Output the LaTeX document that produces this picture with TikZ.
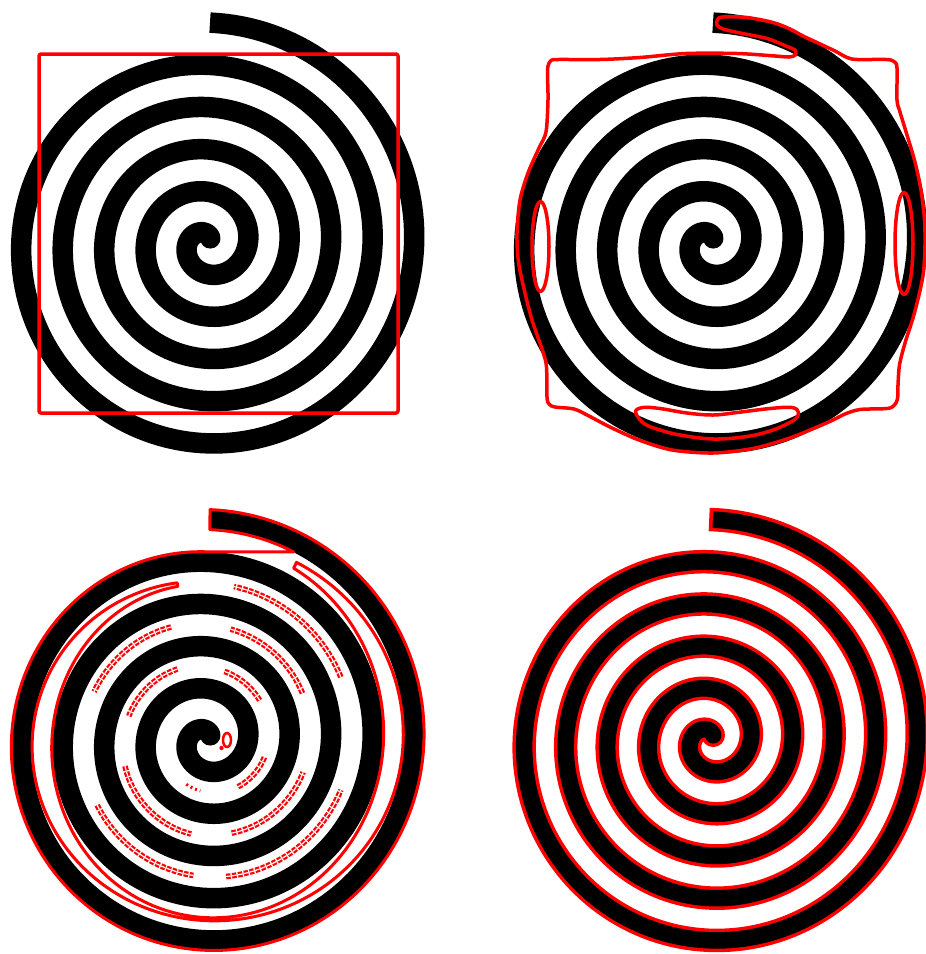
\documentclass[tikz,border=0pt]{standalone}
\pgfmathdeclarefunction{spr}{1}{\pgfmathparse{41.225+0.1175*#1}}
\newcommand\SpX[1]{207.3+0.983*(spr(\t)+(#1))*cos(\t)}
\newcommand\SpY[1]{243.5-(spr(\t)+(#1))*sin(\t)}
\tikzset{
 spiralline/.style={draw=black, line width=20.5pt},
 contour/.style={draw=red, line width=3.5pt, line join=round},
 thincontour/.style={draw=red, line width=3pt, line join=round},
 beads/.style={draw=red, line width=2.2pt, double=white, double distance=1.2pt, dash pattern=on 4.5pt off 1.5pt},
}
\newcommand\DrawSpiral{%
 \draw[spiralline] plot[domain=-300:1529.3, samples=900, variable=\t] ({\SpX{0}},{\SpY{0}});
 \fill[black] (210.24,238.33) circle[radius=10.25pt];
}
\begin{document}
\begin{tikzpicture}[x=1pt,y=-1pt]
\useasboundingbox[fill=white] (0,0) rectangle (926,954);

% ---------- panel 1 ----------
\DrawSpiral
\draw[contour, rounded corners=2pt] (39,54) rectangle (398,413);

% ---------- panel 2 ----------
\begin{scope}[shift={(503,0)}]
\DrawSpiral
\end{scope}
\draw[contour] plot[smooth cycle, tension=0.5] coordinates {
(548,66) (551,60.5) (558,59.5) (600,59.5) (640,57.5) (686,53.5) (737,53.5) (775,56) (789,57) (795.5,55) (795,50) (787,46.5) (767,38.5) (740,33) (723,29) (717,25) (717.5,19.5) (723,17) (747,17.5) (773,22.5) (790,29) (803,36) (818,43) (835,51) (847,57.5) (857,59.5) (886,59.5) (894,61.5) (897,68)
(897,100) (900,112) (907,135) (915,162) (921,190) (924.5,220) (925,245) (923.5,272) (919,295) (913,318) (905,343) (899.5,365) (898,385) (897.5,399) (894,405.5) (887,408.5)
(860,409.5) (845,414) (832,420.5) (810,430) (787,439) (753,448.5) (713,453) (672,450) (639,440) (611,427.5) (588,415.5) (574,409) (555,407) (549,404) (547,397)
(546.5,367) (543,352) (532,320) (525,293) (518.5,262) (517,233) (520,200) (528,173) (539,148) (546,132) (548,100) (547.5,75)};
\draw[contour] (540.5,246.5) ellipse[x radius=8.5pt, y radius=45pt];
\draw[contour] (904,243.5) ellipse[x radius=9pt, y radius=51pt];
\draw[contour] plot[smooth cycle, tension=0.6] coordinates {(635.5,412) (643,407.5) (660,408.5) (687,413) (713,415) (737,412.5) (770,408.5) (792,407.5) (798.5,412.5) (794,420) (773,430) (747,436.5) (713,439) (680,435) (660,430) (644,423.5)};

% ---------- panel 3 ----------
\begin{scope}[shift={(0,497)}]
\DrawSpiral
\draw[thincontour] plot[domain=1529.3:1170, samples=300, variable=\t] ({\SpX{10}},{\SpY{10}})
  -- plot[domain=1505:1529.3, samples=20, variable=\t] ({\SpX{-10}},{\SpY{-10}}) -- cycle;
\draw[thincontour] plot[domain=1503:1181, samples=200, variable=\t] ({\SpX{-21.15+1.5+8.5*cos(\t)*cos(\t)}},{\SpY{-21.15+1.5+8.5*cos(\t)*cos(\t)}})
  -- plot[domain=1181:1503, samples=200, variable=\t] ({\SpX{-21.15-1.5-8.5*cos(\t)*cos(\t)}},{\SpY{-21.15-1.5-8.5*cos(\t)*cos(\t)}}) -- cycle;
\foreach \a/\b/\o in {1105/1160/0, 998/1060/0, 930/984/0, 828/877/2, 746/798/0, 645/702/0, 557/620/2, 473/523/2, 397/437/0, 304/345/0}
  \draw[beads] plot[domain=\a:\b, samples=40, variable=\t] ({\SpX{-21.15+\o}},{\SpY{-21.15+\o}});
\draw[red, line width=3pt, dash pattern=on 2pt off 3pt] plot[domain=244:262, samples=10, variable=\t] ({\SpX{-21.15}},{\SpY{-21.15}});
\draw[red, line width=2.5pt] (227,243) ellipse[x radius=4pt, y radius=7pt];
\fill[red] (221.5,251) circle[radius=2.2pt];
\end{scope}

% ---------- panel 4 ----------
\begin{scope}[shift={(503,497)}]
\draw[red, line width=23.5pt] plot[domain=-300:1530.3, samples=900, variable=\t] ({\SpX{0}},{\SpY{0}});
\fill[red] (210.24,238.33) circle[radius=11.75pt];
\draw[black, line width=16.5pt] plot[domain=-300:1529.3, samples=900, variable=\t] ({\SpX{0}},{\SpY{0}});
\fill[black] (210.24,238.33) circle[radius=8.25pt];
\end{scope}
\end{tikzpicture}
\end{document}
